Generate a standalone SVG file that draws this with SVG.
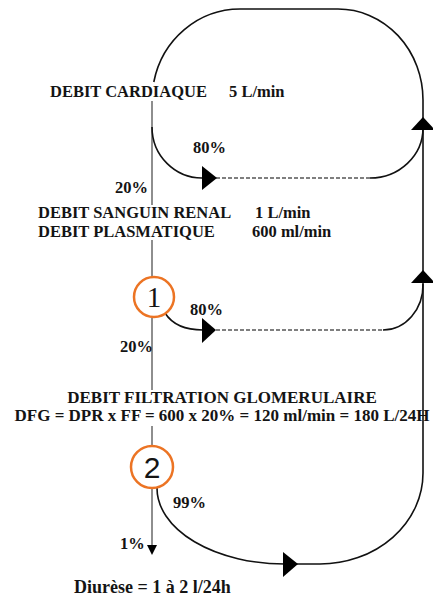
<svg xmlns="http://www.w3.org/2000/svg" width="433" height="602" viewBox="0 0 433 602">
<style>
  text { font-family: "Liberation Serif", "Times New Roman", serif; font-weight: bold; fill: #141414; }
  .lbl { font-size: 16.5px; }
  .pct { font-size: 16.5px; }
  .dfg { font-size: 17px; }
  .circ { fill: #ffffff; stroke: #EC7424; stroke-width: 2.5; }
  .num1 { font-family: "Liberation Serif", "Times New Roman", serif; font-weight: normal; font-size: 29px; }
  .num2 { font-family: "Liberation Sans", Arial, sans-serif; font-weight: normal; font-size: 30px; }
  .main { fill: none; stroke: #444; stroke-width: 1.2; }
  .flow { fill: none; stroke: #111; stroke-width: 1.6; }
  .dash { fill: none; stroke: #555; stroke-width: 1.6; stroke-dasharray: 4 2; }
  .head { fill: #000; stroke: none; }
</style>
<rect width="433" height="602" fill="#ffffff"/>

<g id="connectors">
  <!-- main vertical trunk -->
  <path class="main" d="M152,101 V205 M152,240 V277 M152,318 V390 M152,426 V446 M152,489 V546"/>
  <!-- big loop: top arc, right side, bottom return -->
  <path class="flow" d="M153.8,82 A88 91 0 0 1 240,9 L338,9 A85 91 0 0 1 423,100 L423,473 A103 91 0 0 1 320,564 L296,564"/>
  <!-- 80% branch 1 -->
  <path class="flow" d="M152,127 A50 51 0 0 0 203,178"/>
  <path class="dash" d="M216,178 H370"/>
  <path class="flow" d="M370,178 A53 50 0 0 0 423,128"/>
  <!-- 80% branch 2 -->
  <path class="flow" d="M165,313 C172,324 185,330 203,330"/>
  <path class="dash" d="M216,330 H383"/>
  <path class="flow" d="M383,330 A40 45 0 0 0 423,284"/>
  <!-- 99% branch -->
  <path class="flow" d="M157,488 A128 76 0 0 0 285,564"/>
  <!-- arrowheads -->
  <polygon class="head" points="202,166 217,178 202,190"/>
  <polygon class="head" points="411,130 423,117 435,130"/>
  <polygon class="head" points="202,318 216,330 202,343"/>
  <polygon class="head" points="411,283 423,270 435,283"/>
  <polygon class="head" points="283,552 298,564 283,577"/>
  <polygon class="head" points="147,545 157,545 152,555"/>
</g>

<g id="debit-cardiaque">
  <text class="lbl" x="50" y="97">DEBIT CARDIAQUE</text>
  <text class="lbl" x="229" y="97">5 L/min</text>
</g>
<g id="pct-80-a"><text class="pct" x="193" y="153">80%</text></g>
<g id="pct-20-a"><text class="pct" x="115" y="193">20%</text></g>
<g id="debit-renal">
  <text class="lbl" x="38" y="218">DEBIT SANGUIN RENAL</text>
  <text class="lbl" x="255" y="218">1 L/min</text>
  <text class="lbl" x="38" y="237">DEBIT PLASMATIQUE</text>
  <text class="lbl" x="252" y="237">600 ml/min</text>
</g>
<g id="node-1">
  <circle class="circ" cx="154" cy="297" r="20"/>
  <text class="num1" x="154" y="307" text-anchor="middle">1</text>
</g>
<g id="pct-80-b"><text class="pct" x="190" y="315">80%</text></g>
<g id="pct-20-b"><text class="pct" x="120" y="352">20%</text></g>
<g id="dfg">
  <text class="dfg" x="222" y="403" text-anchor="middle">DEBIT FILTRATION GLOMERULAIRE</text>
  <text class="dfg" x="222" y="421" text-anchor="middle">DFG = DPR x FF = 600 x 20% = 120 ml/min = 180 L/24H</text>
</g>
<g id="node-2">
  <circle class="circ" cx="152" cy="467" r="21"/>
  <text class="num2" x="152" y="478" text-anchor="middle">2</text>
</g>
<g id="pct-99"><text class="pct" x="173" y="508">99%</text></g>
<g id="pct-1"><text class="pct" x="120" y="549">1%</text></g>
<g id="diurese"><text x="74" y="593" style="font-size:18px">Diurèse = 1 à 2 l/24h</text></g>
</svg>
